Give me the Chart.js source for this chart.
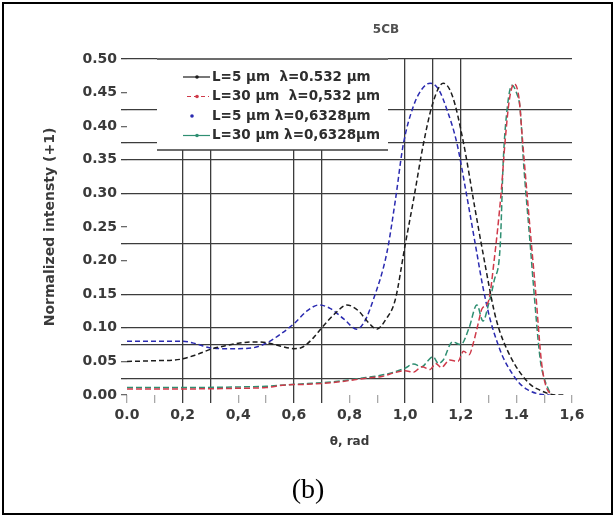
<!DOCTYPE html>
<html>
<head>
<meta charset="utf-8">
<title>5CB</title>
<script src="https://cdn.jsdelivr.net/npm/chart.js@4.4.0/dist/chart.umd.min.js"></script>
<style>
  html, body { margin: 0; padding: 0; background: #fff; }
  .figure { position: relative; width: 616px; height: 517px; background: #fff; overflow: hidden; }
  .figure canvas { position: absolute; left: 0; top: 0; }
  .frame {
    position: absolute; left: 2px; top: 2px; width: 611px; height: 513px;
    box-sizing: border-box; border: 2px solid #000; pointer-events: none;
  }
  .caption {
    position: absolute; left: 0; top: 472px; width: 616px; text-align: center;
    font-family: "Liberation Serif", "Times New Roman", serif; font-size: 28px; line-height: 34px; color: #000;
  }
</style>
</head>
<body>
<div class="figure">
  <canvas id="chart-5cb" width="616" height="517" style="width:616px;height:517px"></canvas>
  <div class="caption">(b)</div>
  <div class="frame"></div>
</div>
<script>
// --- data ---
var chartTitle = '5CB';
var xAxisTitle = 'θ, rad';
var yAxisTitle = 'Normalized intensty (+1)';

var xTickLabels = ['0.0', '0,2', '0,4', '0,6', '0,8', '1,0', '1,2', '1.4', '1,6'];
var yTickLabels = ['0.00', '0.05', '0.10', '0.15', '0.20', '0.25', '0.30', '0.35', '0.40', '0.45', '0.50'];

var seriesLabels = [
  'L=5 µm  λ=0.532 µm',
  'L=30 µm  λ=0,532 µm',
  'L=5 µm λ=0,6328µm',
  'L=30 µm λ=0,6328µm'
];

// L=5 um, lambda=0.532 um (black)
var thetaA = [0, 0.1, 0.19, 0.25, 0.3, 0.35, 0.4, 0.45, 0.5, 0.55, 0.6, 0.63, 0.67, 0.7, 0.75, 0.79, 0.83, 0.87, 0.898, 0.93, 0.964, 1.0, 1.03, 1.065, 1.1, 1.137, 1.17, 1.21, 1.25, 1.28, 1.32, 1.34, 1.366, 1.395, 1.425, 1.455, 1.486, 1.515, 1.545, 1.57];
var intA = [0.050, 0.051, 0.053, 0.060, 0.068, 0.073, 0.077, 0.079, 0.078, 0.073, 0.069, 0.071, 0.085, 0.100, 0.122, 0.134, 0.126, 0.107, 0.098, 0.112, 0.141, 0.223, 0.290, 0.372, 0.435, 0.464, 0.445, 0.375, 0.280, 0.211, 0.125, 0.095, 0.068, 0.045, 0.027, 0.014, 0.007, 0.002, 0.000, 0.000];

// L=30 um, lambda=0.532 um (red)
var thetaB = [0, 0.2, 0.4, 0.5, 0.57, 0.65, 0.75, 0.86, 0.92, 0.96, 1.0, 1.03, 1.06, 1.09, 1.11, 1.13, 1.16, 1.19, 1.21, 1.23, 1.245, 1.262, 1.276, 1.3, 1.32, 1.345, 1.36, 1.375, 1.392, 1.41, 1.42, 1.43, 1.455, 1.468, 1.49, 1.505, 1.525];
var intB = [0.009, 0.009, 0.010, 0.011, 0.015, 0.016, 0.019, 0.025, 0.028, 0.033, 0.036, 0.034, 0.042, 0.038, 0.047, 0.041, 0.052, 0.050, 0.065, 0.060, 0.077, 0.105, 0.128, 0.140, 0.200, 0.300, 0.380, 0.440, 0.463, 0.440, 0.390, 0.340, 0.220, 0.160, 0.050, 0.015, 0.000];

// L=5 um, lambda=0.6328 um (blue)
var thetaC = [0, 0.1, 0.2, 0.25, 0.3, 0.35, 0.4, 0.45, 0.5, 0.55, 0.6, 0.65, 0.69, 0.73, 0.78, 0.826, 0.855, 0.885, 0.934, 0.965, 0.993, 1.03, 1.06, 1.09, 1.12, 1.15, 1.186, 1.22, 1.258, 1.28, 1.306, 1.33, 1.35, 1.38, 1.41, 1.44, 1.486, 1.52];
var intC = [0.080, 0.080, 0.080, 0.076, 0.070, 0.069, 0.069, 0.070, 0.077, 0.090, 0.106, 0.126, 0.134, 0.129, 0.113, 0.098, 0.110, 0.141, 0.211, 0.290, 0.372, 0.430, 0.455, 0.464, 0.455, 0.425, 0.375, 0.300, 0.211, 0.160, 0.112, 0.080, 0.058, 0.035, 0.018, 0.008, 0.001, 0.000];

// L=30 um, lambda=0.6328 um (green)
var thetaD = [0, 0.2, 0.4, 0.5, 0.57, 0.65, 0.75, 0.86, 0.92, 0.96, 1.0, 1.03, 1.06, 1.08, 1.1, 1.12, 1.137, 1.17, 1.2, 1.23, 1.258, 1.28, 1.3, 1.32, 1.342, 1.353, 1.368, 1.384, 1.4, 1.414, 1.425, 1.45, 1.46, 1.486, 1.5, 1.52];
var intD = [0.011, 0.011, 0.012, 0.013, 0.015, 0.017, 0.020, 0.026, 0.030, 0.034, 0.040, 0.046, 0.042, 0.050, 0.057, 0.047, 0.052, 0.079, 0.075, 0.100, 0.134, 0.110, 0.135, 0.170, 0.223, 0.350, 0.430, 0.461, 0.450, 0.424, 0.350, 0.223, 0.170, 0.052, 0.025, 0.004];

// where the original figure has grid lines
var xGridAt = [0.2, 0.3, 0.6, 0.7, 1.0, 1.1, 1.2];
var yGridAt = [0.025, 0.075, 0.1, 0.15, 0.225, 0.3, 0.35, 0.375, 0.425, 0.5];

(function () {
  'use strict';

  var colors = {
    black: '#1c1c1c',
    red: '#cf3a4a',
    blue: '#2a2ab0',
    green: '#2f8f72',
    grid: '#3c3c3c',
    text: '#3a3a3a'
  };
  var fontFamily = '"DejaVu Sans", "Liberation Sans", Arial, sans-serif';

  function toPoints(xs, ys) {
    var pts = [];
    for (var i = 0; i < xs.length; i++) pts.push({ x: xs[i], y: ys[i] });
    return pts;
  }

  function inList(list, v, f) {
    var k = Math.round(v * f);
    for (var i = 0; i < list.length; i++) {
      if (Math.round(list[i] * f) === k) return true;
    }
    return false;
  }

  function series(label, xs, ys, color, dash) {
    return {
      label: label,
      data: toPoints(xs, ys),
      borderColor: color,
      backgroundColor: color,
      borderWidth: 1.5,
      borderDash: dash,
      pointRadius: 0,
      fill: false,
      cubicInterpolationMode: 'monotone'
    };
  }

  // legend box + title, drawn on top like in the scanned figure
  var decorPlugin = {
    id: 'decor',
    afterDraw: function (chart) {
      var ctx = chart.ctx;
      var area = chart.chartArea;
      var sets = chart.data.datasets;
      ctx.save();

      ctx.font = 'bold 12px ' + fontFamily;
      ctx.fillStyle = '#505050';
      ctx.textAlign = 'center';
      ctx.textBaseline = 'middle';
      ctx.fillText(chartTitle, 386, 30);

      var x0 = area.left + 30, y0 = area.top - 1, x1 = area.left + 261, y1 = area.top + 91;
      ctx.fillStyle = '#fff';
      ctx.fillRect(x0, y0, x1 - x0, y1 - y0);
      ctx.strokeStyle = colors.grid;
      ctx.lineWidth = 1.3;
      ctx.beginPath();
      ctx.moveTo(x0, y0 + 1); ctx.lineTo(x1, y0 + 1);
      ctx.moveTo(x0, y1); ctx.lineTo(x1, y1);
      ctx.stroke();

      ctx.font = 'bold 13.5px ' + fontFamily;
      ctx.textAlign = 'left';
      for (var i = 0; i < sets.length; i++) {
        var ry = y0 + 19 + i * 19.5;
        var c = sets[i].borderColor;
        ctx.strokeStyle = c;
        ctx.fillStyle = c;
        ctx.lineWidth = 1.2;
        if (i === 1) {
          ctx.setLineDash([4, 3]);
          ctx.beginPath(); ctx.moveTo(x0 + 30, ry); ctx.lineTo(x0 + 52, ry); ctx.stroke();
          ctx.setLineDash([]);
        } else if (i !== 2) {
          ctx.beginPath(); ctx.moveTo(x0 + 26, ry); ctx.lineTo(x0 + 53, ry); ctx.stroke();
        }
        ctx.beginPath();
        ctx.arc(i === 2 ? x0 + 35 : x0 + 40, ry, 1.8, 0, Math.PI * 2);
        ctx.fill();
        ctx.fillStyle = '#2e2e2e';
        ctx.fillText(sets[i].label, x0 + 55, ry);
      }
      ctx.restore();
    }
  };

  function initChart() {
    var el = document.getElementById('chart-5cb');
    if (!el || typeof Chart === 'undefined') return;

    new Chart(el, {
      type: 'line',
      data: {
        datasets: [
          series(seriesLabels[0], thetaA, intA, colors.black, [5, 3]),
          series(seriesLabels[1], thetaB, intB, colors.red, [6, 3]),
          series(seriesLabels[2], thetaC, intC, colors.blue, [5, 3]),
          series(seriesLabels[3], thetaD, intD, colors.green, [6, 3])
        ]
      },
      options: {
        responsive: false,
        devicePixelRatio: 1,
        animation: false,
        layout: { padding: { left: 0, right: 44, top: 59, bottom: 42 } },
        plugins: {
          legend: { display: false },
          title: { display: false },
          tooltip: { enabled: false }
        },
        scales: {
          x: {
            type: 'linear',
            min: 0,
            max: 1.6,
            afterFit: function (s) { s.height = 80; },
            border: { display: false },
            grid: {
              drawOnChartArea: true,
              tickLength: 8,
              lineWidth: 1.3,
              color: function (c) {
                return c.tick && inList(xGridAt, c.tick.value, 10) ? colors.grid : 'rgba(0,0,0,0)';
              },
              tickColor: function (c) {
                return c.tick && inList(xGridAt, c.tick.value, 10) ? colors.grid : '#a8a8a8';
              }
            },
            ticks: {
              stepSize: 0.1,
              autoSkip: false,
              maxRotation: 0,
              padding: 4,
              color: colors.text,
              font: { family: fontFamily, size: 14, weight: 'bold' },
              callback: function (v) {
                var i = Math.round(v * 10);
                return i % 2 === 0 ? xTickLabels[i / 2] : '';
              }
            },
            title: {
              display: true,
              text: xAxisTitle,
              color: colors.text,
              font: { family: fontFamily, size: 12, weight: 'bold' },
              padding: { top: 0, bottom: 26 }
            }
          },
          y: {
            type: 'linear',
            min: 0,
            max: 0.5,
            afterFit: function (s) { s.width = 127; },
            border: { display: false },
            grid: {
              drawOnChartArea: true,
              tickLength: 6,
              lineWidth: 1.3,
              color: function (c) {
                return c.tick && inList(yGridAt, c.tick.value, 1000) ? colors.grid : 'rgba(0,0,0,0)';
              },
              tickColor: function (c) {
                if (!c.tick) return 'rgba(0,0,0,0)';
                if (inList(yGridAt, c.tick.value, 1000)) return colors.grid;
                return Math.round(c.tick.value * 40) % 2 === 0 ? '#6a6a6a' : 'rgba(0,0,0,0)';
              }
            },
            ticks: {
              stepSize: 0.025,
              autoSkip: false,
              padding: 4,
              color: colors.text,
              font: { family: fontFamily, size: 14, weight: 'bold' },
              callback: function (v) {
                var i = Math.round(v * 40);
                return i % 2 === 0 ? yTickLabels[i / 2] : '';
              }
            },
            title: {
              display: true,
              text: yAxisTitle,
              color: colors.text,
              font: { family: fontFamily, size: 14, weight: 'bold' },
              padding: { top: 42, bottom: 0 }
            }
          }
        }
      },
      plugins: [decorPlugin]
    });
  }

  if (document.readyState === 'loading') {
    document.addEventListener('DOMContentLoaded', initChart);
  } else {
    initChart();
  }
})();
</script>
</body>
</html>
